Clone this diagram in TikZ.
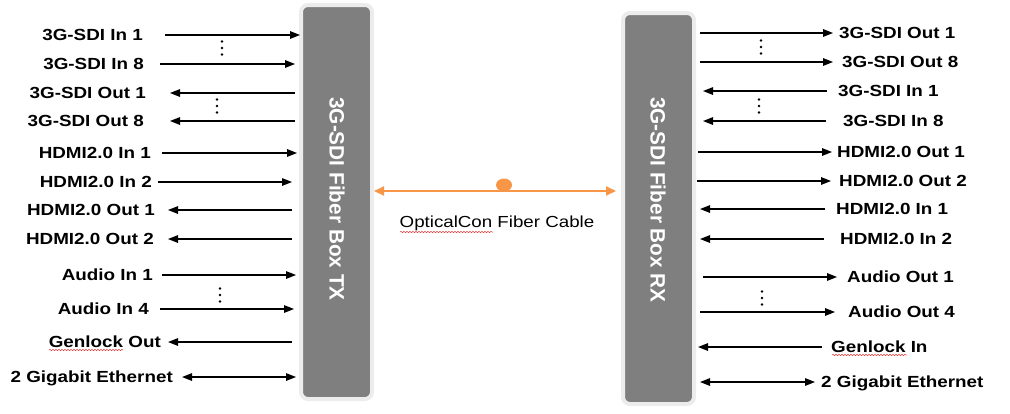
\documentclass[tikz,border=0pt]{standalone}
\usepackage{fontspec}
\setmainfont{Liberation Sans}
\newfontfamily\labfont{Liberation Sans}[FakeStretch=1.17]
\usetikzlibrary{arrows.meta,decorations.pathmorphing}
\definecolor{boxgray}{RGB}{127,127,127}
\definecolor{halo}{RGB}{236,236,236}
\definecolor{fiberorange}{RGB}{247,150,70}
\definecolor{spellred}{RGB}{230,60,60}
\begin{document}
\begin{tikzpicture}[x=1pt,y=-1pt,
  lab/.style={font=\labfont\bfseries\fontsize{16.1pt}{18pt}\selectfont, inner sep=0pt, text height=11.5pt, text depth=0pt},
  sig/.style={line width=1.4pt, -{Triangle[length=10pt,width=7.5pt]}},
  bidir/.style={line width=1.4pt, {Triangle[length=10pt,width=7.5pt]}-{Triangle[length=10pt,width=7.5pt]}},
  devbox/.style={draw=halo, line width=4pt, fill=boxgray, rounded corners=7pt, minimum width=71pt, inner sep=0pt},
  devtext/.style={rotate=-90, text=white, font=\bfseries\fontsize{20.8pt}{24pt}\selectfont, inner sep=0pt},
  fiber/.style={draw=fiberorange, line width=2pt, {Triangle[length=10pt,width=9pt]}-{Triangle[length=10pt,width=9pt]}},
  squiggle/.style={draw=spellred, line width=0.5pt, decorate, decoration={snake, amplitude=0.7pt, segment length=3pt}}
]
\useasboundingbox (0,0) rectangle (1010,413);

% devices
\node[devbox, minimum height=394pt] (TX) at (336.5,202) {};
\node[devbox, minimum height=391pt] (RX) at (658.5,208.5) {};
\node[devtext] (TXt) at (337,199) {3G-SDI Fiber Box TX};
\node[devtext] (RXt) at (658,200) {3G-SDI Fiber Box RX};

% left side (TX)
\foreach \i/\t/\y/\lx/\a/\b/\st in {
  1/3G-SDI In 1/35/143/165/300/sig,
  2/3G-SDI In 8/64/144/160/295/sig,
  3/3G-SDI Out 1/93/146/295/170/sig,
  4/3G-SDI Out 8/121/144/295/170/sig,
  5/HDMI2.0 In 1/153/151/162/297/sig,
  6/HDMI2.0 In 2/182/152/158/292/sig,
  7/HDMI2.0 Out 1/210/155/292/168/sig,
  8/HDMI2.0 Out 2/239/154/292/168/sig,
  9/Audio In 1/275/153/162/296/sig,
  10/Audio In 4/309/149/160/294/sig,
  11/Genlock Out/342/161/292/168/sig,
  12/2 Gigabit Ethernet/377/173/182/296/bidir}{
  \node[lab, anchor=east] (L\i) at (\lx,\y) {\t};
  \coordinate (La\i) at (\a,\y);
  \coordinate (Lb\i) at (\b,\y);
  \draw[\st] (La\i) -- (Lb\i);
}

% right side (RX)
\foreach \i/\t/\y/\lx/\a/\b/\st in {
  1/3G-SDI Out 1/33/839/700/833/sig,
  2/3G-SDI Out 8/62/842/700/833/sig,
  3/3G-SDI In 1/91/838/827/703/sig,
  4/3G-SDI In 8/121/843/826/703/sig,
  5/HDMI2.0 Out 1/152/837/698/832/sig,
  6/HDMI2.0 Out 2/181/839/697/831/sig,
  7/HDMI2.0 In 1/209/836/825/700/sig,
  8/HDMI2.0 In 2/239/840/824/700/sig,
  9/Audio Out 1/277/847/703/837/sig,
  10/Audio Out 4/312/848/700/835/sig,
  11/Genlock In/347/831/822/698/sig,
  12/2 Gigabit Ethernet/382/821/700/815/bidir}{
  \node[lab, anchor=west] (R\i) at (\lx,\y) {\t};
  \coordinate (Ra\i) at (\a,\y);
  \coordinate (Rb\i) at (\b,\y);
  \draw[\st] (Ra\i) -- (Rb\i);
}

% vertical ellipses
\foreach \x/\y in {222/48, 217/106, 220/295, 761/47, 759/106, 762/298}{
  \fill (\x,\y-6.5) circle (1.3pt) (\x,\y) circle (1.3pt) (\x,\y+6.5) circle (1.3pt);
}

% fiber cable
\coordinate (cab) at (504,191);
\draw[fiber, shorten <=0pt, shorten >=5pt] (TX.east |- cab) -- (RX.west |- cab);
\fill[fiberorange] (504,185) ellipse (8pt and 6.5pt);
\node[font=\labfont\fontsize{16pt}{19pt}\selectfont, inner sep=0pt] (cap) at (497,223) {OpticalCon Fiber Cable};

% spell-check underlines
\draw[squiggle] (400,232) -- (493,232);
\draw[squiggle] (49,350) -- (123,350);
\draw[squiggle] (832,355) -- (907,355);
\end{tikzpicture}
\end{document}
